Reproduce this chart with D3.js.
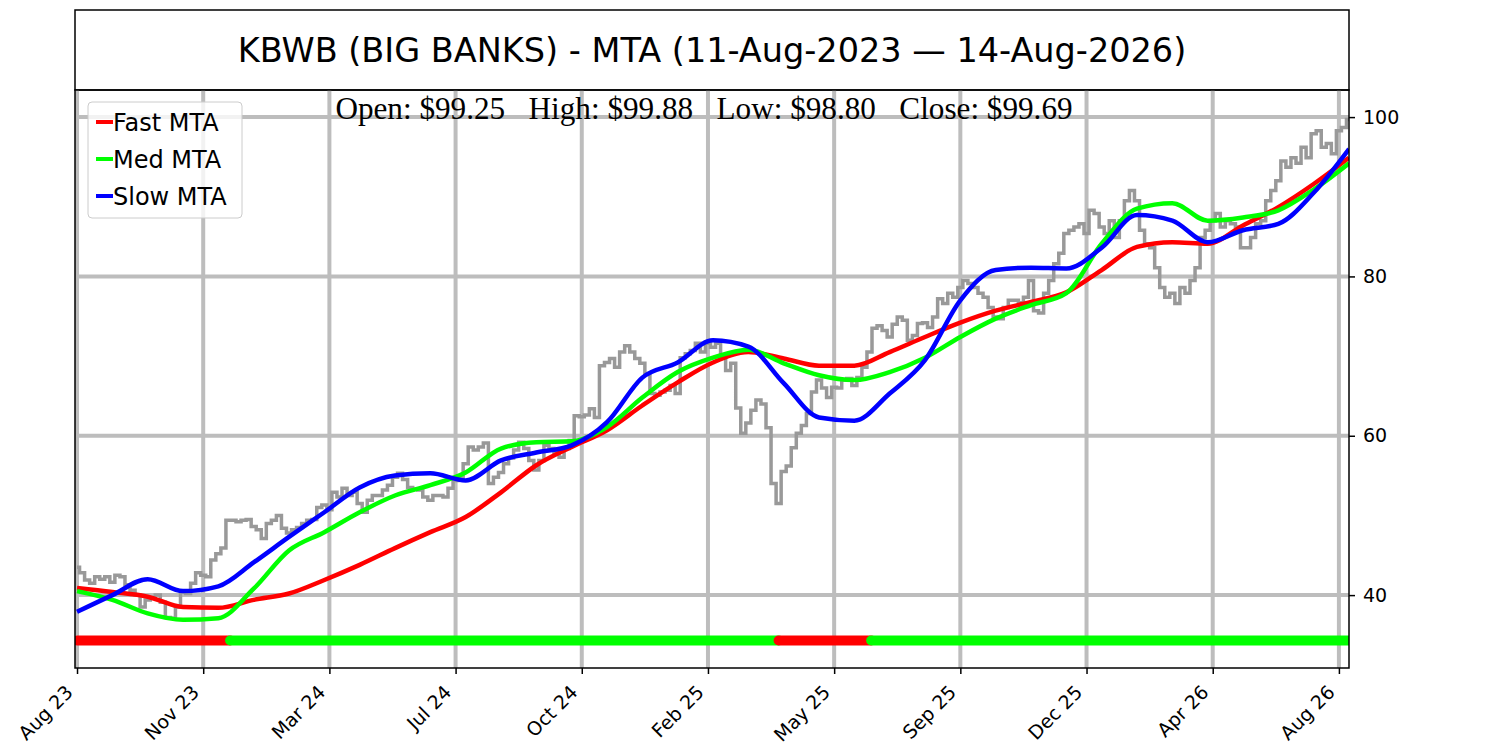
<!DOCTYPE html>
<html>
<head>
<meta charset="utf-8">
<script src="https://cdn.jsdelivr.net/npm/d3@7"></script>
<style>
  body { margin: 0; background: #fff; }
</style>
</head>
<body>
<div id="chart"></div>
<script>
const W = 1500;
const H = 750;

// --- data --------------------------------------------------------------
const chartTitle = 'KBWB (BIG BANKS) - MTA (11-Aug-2023 \u2014 14-Aug-2026)';
const ohlcText = 'Open: $99.25\u00a0\u00a0\u00a0High: $99.88\u00a0\u00a0\u00a0Low: $98.80\u00a0\u00a0\u00a0Close: $99.69';

// x axis is bar index (trading days), ticks every 75 bars
const tickIdx = [0, 75, 150, 225, 300, 375, 450, 525, 600, 675, 750];
const tickLabels = ['Aug 23', 'Nov 23', 'Mar 24', 'Jul 24', 'Oct 24', 'Feb 25',
                    'May 25', 'Sep 25', 'Dec 25', 'Apr 26', 'Aug 26'];
const yTicks = [40, 60, 80, 100];

// price, one value every 3 bars
const priceStep = 3;
const price = [
  43.5, 42.8, 41.9, 41.5, 42.3, 42.0, 42.3, 41.6, 42.5, 42.3, 41.3, 40.6, 40.0, 38.5, 39.4, 39.7,
  40.0, 39.1, 37.2, 37.1, 38.5, 40.4, 40.2, 41.5, 42.8, 42.5, 42.3, 44.4, 45.2, 45.9, 49.4, 49.4,
  49.2, 49.4, 49.5, 48.6, 48.2, 47.1, 49.0, 49.4, 50.0, 48.4, 47.8, 48.2, 48.5, 49.0, 49.4, 49.5,
  51.0, 51.3, 50.7, 52.9, 52.3, 53.4, 52.5, 52.9, 51.5, 50.4, 51.9, 52.5, 52.5, 53.2, 53.8, 54.8, 55.3,
  54.5, 53.5, 53.3, 53.2, 52.3, 51.9, 52.5, 52.5, 52.3, 53.4, 54.4, 54.8, 56.5, 58.6, 58.2, 58.6,
  59.1, 54.0, 54.8, 55.4, 56.5, 57.2, 58.2, 59.2, 58.4, 56.9, 55.7, 56.9, 58.8, 58.4, 57.9, 57.3,
  58.4, 59.4, 62.5, 62.4, 62.6, 63.4, 62.3, 68.8, 69.2, 69.7, 68.6, 70.5, 71.3, 70.5, 69.7, 69.1,
  67.8, 65.3, 65.1, 65.5, 65.7, 66.3, 65.3, 69.8, 70.3, 70.7, 71.6, 70.5, 71.6, 71.1, 71.6, 69.8, 68.2,
  69.1, 63.5, 60.3, 61.6, 63.2, 64.5, 64.0, 61.0, 54.0, 51.5, 55.5, 56.2, 58.5, 60.3, 61.3, 62.8,
  65.5, 67.0, 66.0, 64.8, 66.1, 66.0, 67.0, 67.2, 66.3, 67.3, 68.6, 70.5, 73.5, 73.8, 73.2, 72.4,
  74.0, 74.9, 74.5, 72.0, 72.6, 74.1, 74.2, 73.6, 74.9, 77.2, 76.6, 77.9, 77.4, 78.6, 79.5, 79.1,
  78.6, 77.9, 77.4, 76.1, 74.9, 74.7, 76.1, 77.0, 77.0, 76.7, 77.4, 79.5, 75.7, 75.4, 77.9,
  79.5, 81.6, 82.9, 85.4, 85.8, 86.2, 86.6, 85.4, 88.3, 87.9, 86.2, 85.4, 87.0, 84.9, 87.0, 89.5,
  90.8, 89.5, 85.8, 84.1, 83.6, 81.1, 78.6, 77.4, 77.9, 76.6, 78.6, 77.9, 79.5, 81.1, 84.9, 85.8,
  87.0, 87.9, 86.2, 87.0, 86.6, 86.2, 83.6, 83.6, 84.9, 86.6, 87.0, 89.5, 90.8, 92.0, 94.5, 93.7,
  94.9, 94.2, 96.2, 94.9, 97.9, 98.3, 96.2, 96.7, 95.4, 98.3, 98.7, 99.7
];

// moving trend averages, one value every 21 bars
const mtaStep = 21;
const fastMta = [40.9, 40.4, 39.8, 38.5, 38.4, 39.4, 40.2, 41.9, 43.8, 45.9, 47.9, 49.8, 52.9,
                 56.3, 58.6, 60.7, 63.8, 66.7, 69.2, 70.5, 69.7, 68.8, 68.8, 70.5, 72.4, 74.2,
                 75.7, 76.8, 78.0, 80.8, 83.7, 84.3, 84.1, 86.4, 88.7, 91.6, 94.9];
const medMta  = [40.5, 39.4, 37.7, 36.9, 37.1, 40.8, 45.6, 47.9, 50.4, 52.5, 53.8, 55.4, 58.4,
                 59.2, 59.3, 61.1, 64.8, 68.0, 69.8, 70.8, 69.1, 67.6, 67.0, 68.0, 69.8, 72.4,
                 74.7, 76.4, 77.9, 84.1, 88.5, 89.2, 87.0, 87.4, 88.3, 90.9, 94.2];
const slowMta = [37.9, 40.0, 42.0, 40.5, 41.1, 44.1, 47.3, 50.4, 53.5, 55.0, 55.3, 54.4, 56.9,
                 57.9, 58.8, 61.7, 67.3, 69.2, 72.0, 71.2, 66.6, 62.3, 61.9, 65.3, 69.5, 77.0,
                 80.8, 81.1, 81.0, 83.6, 87.7, 87.0, 84.3, 85.8, 86.6, 90.5, 96.0];

// trend signal strip: segment start bars and state
const signalStart = [0, 91, 417, 472];
const signalEnd = [91, 417, 472, 756];
const signalState = ['down', 'up', 'down', 'up'];
const signalLevel = 34.3;

const seriesNames = ['Fast MTA', 'Med MTA', 'Slow MTA'];
const seriesColors = ['#ff0000', '#00ff00', '#0000ff'];

// --- layout ---------------------------------------------------------------
const plot = { left: 75, right: 1349, top: 90, bottom: 668 };

const svg = d3.select('#chart').append('svg')
    .attr('width', W)
    .attr('height', H)
    .style('font-family', 'DejaVu Sans, sans-serif');

const x = d3.scaleLinear().domain([-1.2, 756]).range([plot.left, plot.right]);
const y = d3.scaleLinear().domain([30.85, 103.4]).range([plot.bottom, plot.top]);

// title box
svg.append('rect')
    .attr('x', plot.left).attr('y', 10)
    .attr('width', plot.right - plot.left).attr('height', plot.top - 10)
    .attr('fill', 'none').attr('stroke', '#000').attr('stroke-width', 1.5);

svg.append('text')
    .attr('x', (plot.left + plot.right) / 2)
    .attr('y', 62)
    .attr('text-anchor', 'middle')
    .style('font-size', '33.5px')
    .text(chartTitle);

// grid
const grid = svg.append('g').attr('stroke', '#bdbdbd').attr('stroke-width', 4);
grid.selectAll('line.vg')
    .data(tickIdx)
    .enter().append('line')
    .attr('x1', d => x(d)).attr('x2', d => x(d))
    .attr('y1', plot.top).attr('y2', plot.bottom);
grid.selectAll('line.hg')
    .data(yTicks)
    .enter().append('line')
    .attr('x1', plot.left).attr('x2', plot.right)
    .attr('y1', d => y(d)).attr('y2', d => y(d));

const clip = svg.append('defs').append('clipPath').attr('id', 'plotclip');
clip.append('rect')
    .attr('x', plot.left).attr('y', plot.top)
    .attr('width', plot.right - plot.left).attr('height', plot.bottom - plot.top);

const body = svg.append('g').attr('clip-path', 'url(#plotclip)');

// price
const priceLine = d3.line()
    .x((d, i) => x(i * priceStep))
    .y(d => y(d))
    .curve(d3.curveStep);

body.append('path')
    .datum(price)
    .attr('d', priceLine)
    .attr('fill', 'none')
    .attr('stroke', '#999999')
    .attr('stroke-width', 3.5);

// MTA lines
const mtaLine = d3.line()
    .x((d, i) => x(Math.min(i * mtaStep, 756)))
    .y(d => y(d))
    .curve(d3.curveMonotoneX);

[fastMta, medMta, slowMta].forEach((series, k) => {
    body.append('path')
        .datum(series)
        .attr('d', mtaLine)
        .attr('fill', 'none')
        .attr('stroke', seriesColors[k])
        .attr('stroke-width', 4.5);
});

// signal strip
body.selectAll('line.sig')
    .data(signalState)
    .enter().append('line')
    .attr('x1', (d, i) => x(signalStart[i]))
    .attr('x2', (d, i) => x(signalEnd[i]))
    .attr('y1', y(signalLevel)).attr('y2', y(signalLevel))
    .attr('stroke', d => d === 'up' ? '#00ff00' : '#ff0000')
    .attr('stroke-width', 10)
    .attr('stroke-linecap', 'round');

// OHLC readout
svg.append('text')
    .attr('x', 704)
    .attr('y', 119)
    .attr('text-anchor', 'middle')
    .style('font-family', 'Liberation Serif, Times New Roman, serif')
    .style('font-size', '31.2px')
    .text(ohlcText);

// axes
const yAxis = d3.axisRight(y).tickValues(yTicks).tickSize(6).tickPadding(8);
const yg = svg.append('g')
    .attr('transform', `translate(${plot.right},0)`)
    .call(yAxis);
yg.select('.domain').remove();
yg.selectAll('text').style('font-size', '19px').style('font-family', 'DejaVu Sans, sans-serif');
yg.selectAll('line').attr('stroke-width', 1.5);

const xAxis = d3.axisBottom(x)
    .tickValues(tickIdx)
    .tickFormat((d, i) => tickLabels[i])
    .tickSize(6);
const xg = svg.append('g')
    .attr('transform', `translate(0,${plot.bottom})`)
    .call(xAxis);
xg.select('.domain').remove();
xg.selectAll('line').attr('stroke-width', 1.5);
xg.selectAll('text')
    .style('font-size', '19px')
    .style('font-family', 'DejaVu Sans, sans-serif')
    .attr('text-anchor', 'end')
    .attr('x', 0).attr('y', 0)
    .attr('dy', '0.71em')
    .attr('transform', 'translate(-13,16) rotate(-45)');

// plot frame
svg.append('rect')
    .attr('x', plot.left).attr('y', plot.top)
    .attr('width', plot.right - plot.left).attr('height', plot.bottom - plot.top)
    .attr('fill', 'none').attr('stroke', '#000').attr('stroke-width', 1.5);

// legend
const legend = svg.append('g').attr('transform', 'translate(88,102)');
legend.append('rect')
    .attr('width', 154).attr('height', 116).attr('rx', 4)
    .attr('fill', '#fff').attr('fill-opacity', 0.8)
    .attr('stroke', '#cccccc').attr('stroke-width', 1);

const entries = legend.selectAll('g.entry')
    .data(seriesNames)
    .enter().append('g')
    .attr('transform', (d, i) => `translate(0,${20 + i * 37})`);
entries.append('line')
    .attr('x1', 8).attr('x2', 25)
    .attr('stroke', (d, i) => seriesColors[i])
    .attr('stroke-width', 4);
entries.append('text')
    .attr('x', 25).attr('y', 9)
    .style('font-size', '24px')
    .text(d => d);
</script>
</body>
</html>
